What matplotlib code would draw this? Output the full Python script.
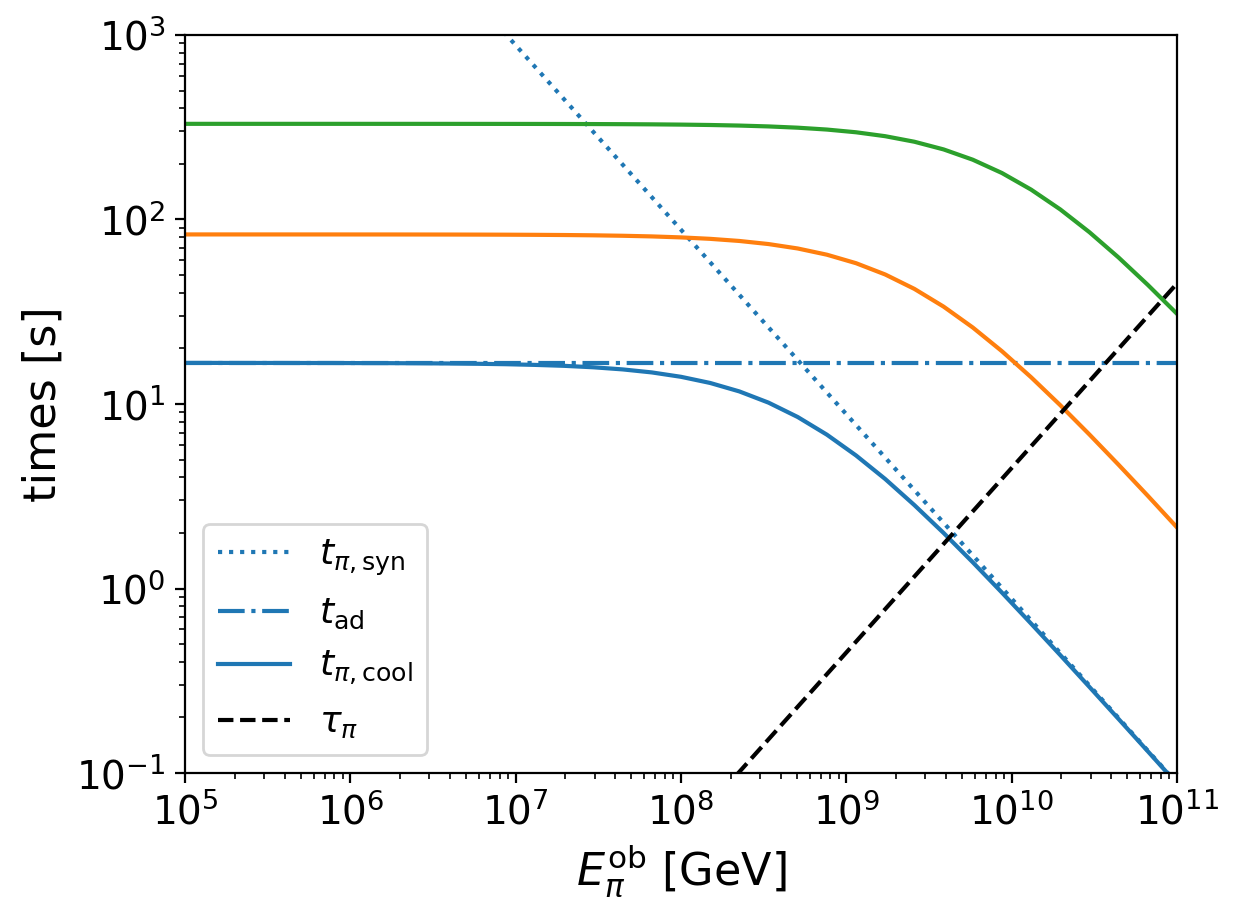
import numpy as np
import matplotlib
matplotlib.use('Agg')
import matplotlib.pyplot as plt

# pion energy grid [GeV]
E_pi = [1.000e5, 1.502e5, 2.254e5, 3.384e5, 5.081e5, 7.627e5, 1.145e6, 1.719e6,
        2.581e6, 3.875e6, 5.818e6, 8.734e6, 1.311e7, 1.968e7, 2.955e7, 4.437e7,
        6.661e7, 1.000e8, 1.502e8, 2.254e8, 3.384e8, 5.081e8, 7.627e8, 1.145e9,
        1.719e9, 2.581e9, 3.875e9, 5.818e9, 8.734e9, 1.311e10, 1.968e10, 2.955e10,
        4.437e10, 6.661e10, 1.000e11]

# cooling times [s] for the three cases
t_cool_blue = [16.70, 16.70, 16.69, 16.69, 16.68, 16.68, 16.66, 16.65, 16.62, 16.58,
               16.52, 16.43, 16.29, 16.10, 15.81, 15.40, 14.83, 14.04, 13.00, 11.70,
               10.17, 8.50, 6.82, 5.26, 3.92, 2.83, 2.00, 1.387, 0.950, 0.645,
               0.4355, 0.2925, 0.1960, 0.1311, 0.0875]
t_cool_orange = [83.00, 83.00, 82.99, 82.99, 82.98, 82.98, 82.96, 82.95, 82.92, 82.88,
                 82.82, 82.73, 82.59, 82.39, 82.09, 81.63, 80.97, 79.98, 78.55, 76.50,
                 73.60, 69.65, 64.45, 57.96, 50.34, 42.05, 33.71, 25.98, 19.32, 13.96,
                 9.85, 6.83, 4.68, 3.18, 2.143]
t_cool_green = [330.0, 330.0, 329.99, 329.99, 329.98, 329.98, 329.96, 329.94, 329.92, 329.88,
                329.81, 329.72, 329.58, 329.37, 329.06, 328.58, 327.88, 326.83, 325.26, 322.94,
                319.50, 314.49, 307.26, 297.0, 282.8, 263.9, 239.8, 210.9, 178.6, 145.2,
                113.4, 85.31, 62.18, 44.21, 30.82]

# straight lines (end points)
E_ends = [1e5, 1e11]
t_syn = [8.8e4, 0.088]
t_ad = [16.7, 16.7]
tau_pi = [4.5e-5, 45.0]

fig = plt.figure(figsize=(6.195, 4.61), dpi=200)
fig.subplots_adjust(left=185/1239, right=1177/1239, top=1-35/922, bottom=1-773/922)
ax = fig.add_subplot(111)

ax.plot(E_ends, t_syn, ':', color='C0', label=r'$t_{\pi,\mathrm{syn}}$')
ax.plot(E_ends, t_ad, '-.', color='C0', label=r'$t_{\mathrm{ad}}$')
ax.plot(E_pi, t_cool_blue, '-', color='C0', label=r'$t_{\pi,\mathrm{cool}}$')
ax.plot(E_pi, t_cool_orange, '-', color='C1')
ax.plot(E_pi, t_cool_green, '-', color='C2')
ax.plot(E_ends, tau_pi, '--', color='k', label=r'$\tau_{\pi}$')

ax.set_xscale('log')
ax.set_yscale('log')
ax.set_xlim(1e5, 1e11)
ax.set_ylim(1e-1, 1e3)
ax.tick_params(labelsize=14)
ax.set_xlabel(r'$E_{\pi}^{\mathrm{ob}}$ [GeV]', fontsize=16)
ax.set_ylabel('times [s]', fontsize=16)
ax.legend(loc='lower left', fontsize=13)

fig.savefig('out.png', dpi=200)
